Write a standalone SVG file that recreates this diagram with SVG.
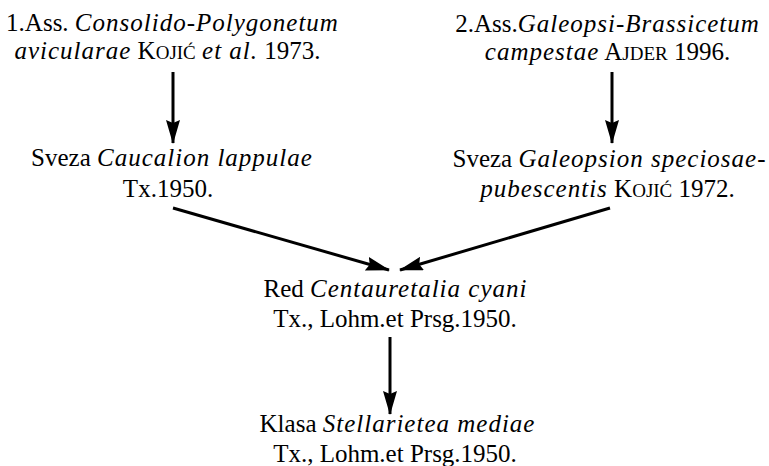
<svg xmlns="http://www.w3.org/2000/svg" width="769" height="466" viewBox="0 0 769 466">
<style>
text{font-family:"Liberation Serif","Times New Roman",serif;font-size:25px;fill:#000;text-anchor:middle}
.i{font-style:italic;letter-spacing:1px}
.sc{font-size:19px}
.c{stroke:#000;stroke-width:3;fill:none}
</style>
<defs>
<marker id="a" markerUnits="userSpaceOnUse" markerWidth="24" markerHeight="14" viewBox="0 0 24 14" refX="23" refY="7" orient="auto">
<path d="M0,0 L24,7 L0,14 L3,7 Z" fill="#000"/>
</marker>
</defs>
<rect width="769" height="466" fill="#fff"/>
<g id="connectors">
<line class="c" x1="173" y1="72" x2="173" y2="143" marker-end="url(#a)"/>
<line class="c" x1="612" y1="72" x2="612" y2="143" marker-end="url(#a)"/>
<line class="c" x1="173" y1="208" x2="389" y2="270" marker-end="url(#a)"/>
<line class="c" x1="610" y1="208" x2="400" y2="270" marker-end="url(#a)"/>
<line class="c" x1="390" y1="337" x2="390" y2="414" marker-end="url(#a)"/>
</g>
<g id="n1">
<text x="172.5" y="31">1.Ass. <tspan class="i">Consolido-Polygonetum</tspan></text>
<text x="167.5" y="59"><tspan class="i">avicularae</tspan> K<tspan class="sc">OJIĆ</tspan> <tspan class="i">et al.</tspan> 1973.</text>
</g>
<g id="n2">
<text x="607.5" y="32">2.Ass.<tspan class="i">Galeopsi-Brassicetum</tspan></text>
<text x="607.5" y="60"><tspan class="i">campestae</tspan> A<tspan class="sc">JDER</tspan> 1996.</text>
</g>
<g id="n3">
<text x="172" y="166">Sveza <tspan class="i">Caucalion lappulae</tspan></text>
<text x="168" y="197">Tx.1950.</text>
</g>
<g id="n4">
<text x="609.5" y="167">Sveza <tspan class="i">Galeopsion speciosae-</tspan></text>
<text x="607.5" y="197"><tspan class="i">pubescentis</tspan> K<tspan class="sc">OJIĆ</tspan> 1972.</text>
</g>
<g id="n5">
<text x="395.5" y="297">Red <tspan class="i">Centauretalia cyani</tspan></text>
<text x="395" y="327">Tx., Lohm.et Prsg.1950.</text>
</g>
<g id="n6">
<text x="397.5" y="432">Klasa <tspan class="i">Stellarietea mediae</tspan></text>
<text x="395" y="462">Tx., Lohm.et Prsg.1950.</text>
</g>
</svg>
